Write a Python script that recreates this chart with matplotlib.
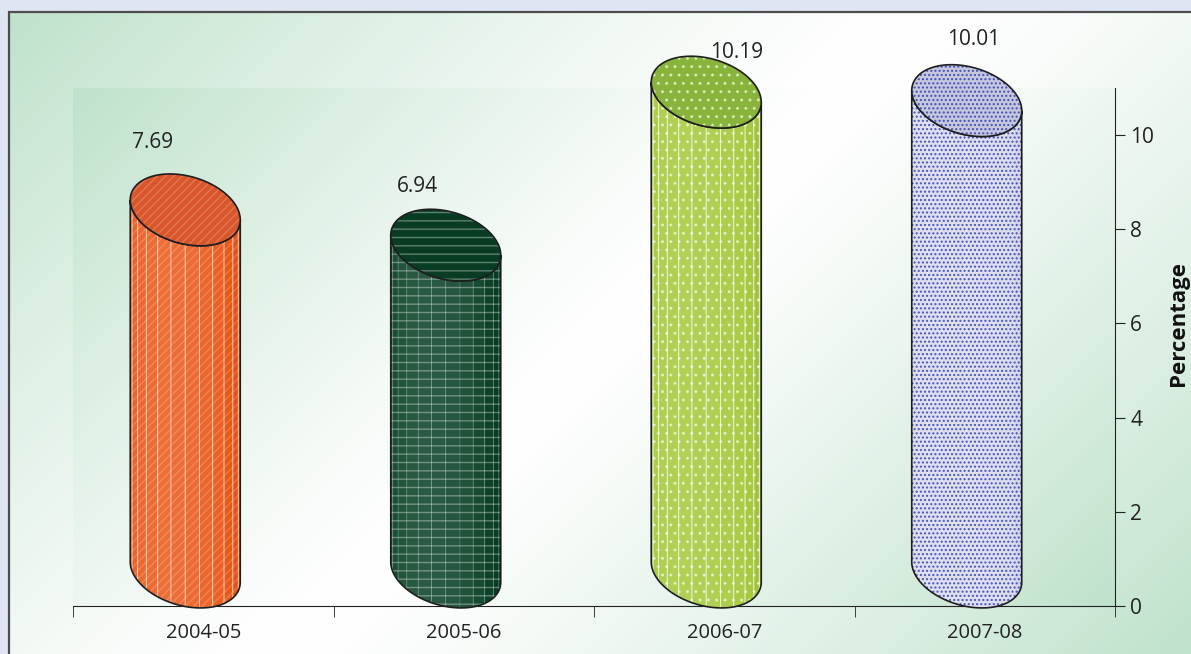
import numpy as np
import matplotlib
matplotlib.use("Agg")
import matplotlib.pyplot as plt
from matplotlib.patches import Polygon, Rectangle
from matplotlib.colors import to_rgb

plt.rcParams['font.family'] = ['Open Sans', 'DejaVu Sans']
plt.rcParams['hatch.linewidth'] = 1.0

years = ["2004-05", "2005-06", "2006-07", "2007-08"]
growth = [7.69, 6.94, 10.19, 10.01]

side_colors = ["#ea5515", "#073f24", "#a4c93a", "#d9dbef"]
top_colors = ["#d9562a", "#083d24", "#88b43c", "#c6c8de"]
hatch_colors = [(1, 1, 1, 0.2), (1, 1, 1, 0.35), (1, 1, 1, 0.55), (0.2, 0.25, 0.7, 0.85)]
facet_alpha = [0.45, 0.12, 0.6, 0.15]
hatches = ["////", "--", "..", "...."]
# value label offsets in pixels from the top of each cylinder axis
label_offsets = [(-33, 101), (-28, 93), (30, 74), (7, 95)]

W, H = 1191, 654
fig = plt.figure(figsize=(W / 100, H / 100), dpi=100)
fig.patch.set_facecolor("#dfe5f3")

green = np.array(to_rgb("#bfe2cb"))
white = np.array([1.0, 1.0, 1.0])


def diag_gradient(nx, ny, p=1.3):
    xx, yy = np.meshgrid(np.linspace(0, 1, nx), np.linspace(0, 1, ny))
    t = (xx * nx + yy * ny) / (nx + ny)
    f = np.abs(2 * t - 1) ** p
    return white + (green - white) * f[..., None]


# outer panel
bg = fig.add_axes([9 / W, 0, 1 - 9 / W, 1 - 12 / H])
bg.imshow(diag_gradient(1182, 642), aspect="auto", extent=(0, 1, 0, 1))
bg.set_axis_off()
fig.add_artist(Rectangle((9 / W, -0.1), 1.2, 1 - 12 / H + 0.1, transform=fig.transFigure,
                         fill=False, edgecolor="#4d4d4d", lw=1.6))

ax = fig.add_axes([73 / W, 48 / H, 1042 / W, 518 / H])
ax.set_xlim(-0.5, 3.5)
ax.set_ylim(0, 11)
ax.imshow(diag_gradient(1042, 518, 1.2), aspect="auto", extent=(-0.5, 3.5, 0, 11), zorder=0)
ax.set_facecolor("none")

for s in ["top", "left"]:
    ax.spines[s].set_visible(False)
ax.spines["right"].set_color("#222222")
ax.spines["bottom"].set_color("#222222")
ax.yaxis.tick_right()
ax.set_yticks([0, 2, 4, 6, 8, 10])
ax.tick_params(axis="y", direction="out", length=7, color="#222222", labelsize=15,
               labelcolor="#222222", pad=4)
ax.set_xticks(range(len(years)))
ax.set_xticklabels(years)
ax.set_xticks(np.arange(-0.5, 4, 1), minor=True)
ax.tick_params(axis="x", which="major", length=0, labelsize=14.5, labelcolor="#222222", pad=12)
ax.tick_params(axis="x", which="minor", length=8, color="#222222")
ax.text(1.061, 0.545, "Percentage", transform=ax.transAxes, rotation=90,
        ha="center", va="center", fontsize=16, fontweight="bold", color="#111111")

ppx = ax.bbox.width / 4
ppy = ax.bbox.height / 11

# tilted ellipse for the cylinder caps, in pixels
a_px, skew_px, b_px = 55, 10, 34.5
x_shift = -18 / ppx
base_c = 34 / ppy


def cap(t):
    return a_px * np.cos(t) / ppx, -(skew_px * np.cos(t) + b_px * np.sin(t)) / ppy


def shade(col, s):
    c = np.array(to_rgb(col))
    m = 0.2 * np.cos((s - 0.4) * np.pi * 0.95) - 0.06
    if m > 0:
        return c + (1 - c) * m
    return c * (1 + m)


n_facets = 12
for i, (val, sc, tc, hc, h) in enumerate(zip(growth, side_colors, top_colors, hatch_colors, hatches)):
    cx = i + x_shift
    yb = base_c
    yt = base_c + val

    edges = np.linspace(np.pi, 0, n_facets + 1)
    for k in range(n_facets):
        tt = np.linspace(edges[k], edges[k + 1], 6)
        dx, dy = cap(tt)
        pts = np.vstack([np.column_stack([cx + dx, yb + dy]),
                         np.column_stack([cx + dx[::-1], yt + dy[::-1]])])
        s = (k + 0.5) / n_facets
        ax.add_patch(Polygon(pts, closed=True, facecolor=shade(sc, s),
                             edgecolor=(1, 1, 1, facet_alpha[i]), lw=0.7, zorder=3, clip_on=False))

    tt = np.linspace(np.pi, 0, 120)
    dx, dy = cap(tt)
    side = np.vstack([np.column_stack([cx + dx, yb + dy]),
                      np.column_stack([cx + dx[::-1], yt + dy[::-1]])])
    ax.add_patch(Polygon(side, closed=True, facecolor="none", edgecolor=hc, lw=0,
                         hatch=h, zorder=4, clip_on=False))
    ax.add_patch(Polygon(side, closed=True, facecolor="none", edgecolor="#1e1e1e",
                         lw=1.2, zorder=5, clip_on=False))

    tfull = np.linspace(0, 2 * np.pi, 200)
    dx, dy = cap(tfull)
    top = np.column_stack([cx + dx, yt + dy])
    ax.add_patch(Polygon(top, closed=True, facecolor=tc, edgecolor="none", zorder=6, clip_on=False))
    ax.add_patch(Polygon(top, closed=True, facecolor="none", edgecolor=hc, lw=0,
                         hatch=h, zorder=7, clip_on=False))
    ax.add_patch(Polygon(top, closed=True, facecolor="none", edgecolor="#1e1e1e",
                         lw=1.2, zorder=8, clip_on=False))

    ox, oy = label_offsets[i]
    ax.annotate(f"{val:.2f}", xy=(cx, val), xytext=(ox, oy), textcoords="offset pixels",
                ha="center", va="center", fontsize=15, color="#222222",
                annotation_clip=False)

fig.savefig("out.png", dpi=100, facecolor=fig.get_facecolor())
